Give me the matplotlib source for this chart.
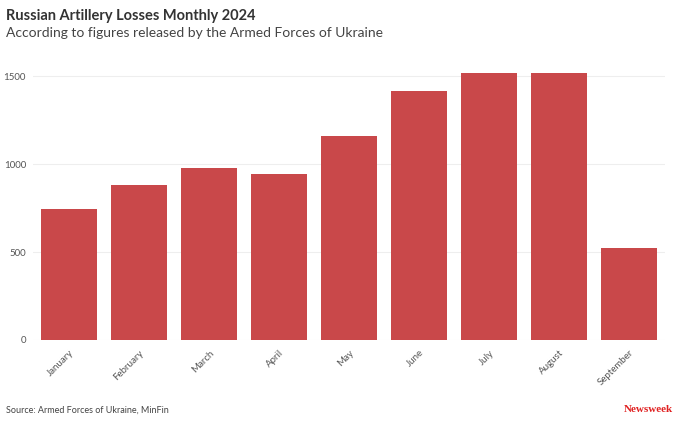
import matplotlib.pyplot as plt

meses = ['January', 'February', 'March', 'April', 'May', 'June', 'July', 'August', 'September']
perdas = [747, 883, 979, 945, 1163, 1415, 1522, 1518, 521]
yticks = [0, 500, 1000, 1500]

plt.rcParams['font.family'] = ['Lato', 'DejaVu Sans']

fig = plt.figure(figsize=(6.8, 4.33), dpi=100)
ax = fig.add_axes([0.0485, 0.215, 0.93, 0.645])

x = range(len(meses))
ax.bar(x, perdas, width=0.8, color='#c9484a', zorder=3)

ax.set_xlim(-0.52, len(meses) - 0.48)
ax.set_ylim(0, 1590)
ax.set_yticks(yticks)
ax.set_yticklabels([str(v) for v in yticks])
ax.set_xticks(list(x))
ax.set_xticklabels(meses, rotation=45, ha='right', rotation_mode='anchor')
ax.tick_params(axis='both', length=0, labelsize=7, colors='#555555')
ax.tick_params(axis='x', pad=6)
ax.tick_params(axis='y', pad=5)
ax.grid(axis='y', color='#eeeeee', linewidth=0.8, zorder=0)
for s in ax.spines.values():
    s.set_visible(False)

fig.text(0.009, 0.963, 'Russian Artillery Losses Monthly 2024', fontsize=10.5,
         fontweight='bold', color='#333333', va='center')
fig.text(0.009, 0.923, 'According to figures released by the Armed Forces of Ukraine',
         fontsize=10, color='#444444', va='center')
fig.text(0.009, 0.053, 'Source: Armed Forces of Ukraine, MinFin', fontsize=6.5,
         color='#444444', va='center')
fig.text(0.99, 0.055, 'Newsweek', fontsize=8, fontweight='bold', color='#e02020',
         family=['Liberation Serif', 'DejaVu Serif'], ha='right', va='center')

fig.savefig('out.png', dpi=100)
